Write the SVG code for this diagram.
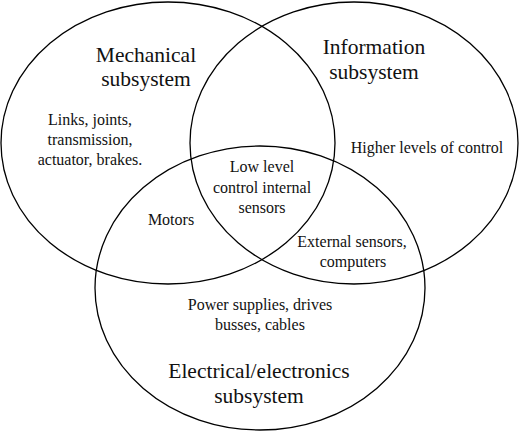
<svg xmlns="http://www.w3.org/2000/svg" width="520" height="432" viewBox="0 0 520 432">
<style>
.set{fill:none;stroke:#000;stroke-width:1.3}
.big{font-size:21.5px}
.sm{font-size:16px}
</style>
<rect width="520" height="432" fill="#fff"/>
<g font-family="'Liberation Serif', 'DejaVu Serif', serif" fill="#111" text-anchor="middle">
<g id="mechanical">
<ellipse class="set" cx="168" cy="143" rx="167" ry="141"/>
<text class="big" x="146" y="62">Mechanical</text>
<text class="big" x="146" y="86">subsystem</text>
<text class="sm" x="90" y="125">Links, joints,</text>
<text class="sm" x="90" y="145">transmission,</text>
<text class="sm" x="90" y="165">actuator, brakes.</text>
</g>
<g id="information">
<ellipse class="set" cx="354" cy="143" rx="164" ry="141"/>
<text class="big" x="374" y="54">Information</text>
<text class="big" x="374" y="79">subsystem</text>
<text class="sm" x="427" y="153">Higher levels of control</text>
</g>
<g id="electrical">
<ellipse class="set" cx="260" cy="288" rx="165" ry="142"/>
<text class="sm" x="260" y="310">Power supplies, drives</text>
<text class="sm" x="260" y="330">busses, cables</text>
<text class="big" x="259" y="378">Electrical/electronics</text>
<text class="big" x="259" y="403">subsystem</text>
</g>
<g id="overlaps">
<text class="sm" x="262" y="172">Low level</text>
<text class="sm" x="262" y="193">control internal</text>
<text class="sm" x="262" y="213">sensors</text>
<text class="sm" x="171" y="225">Motors</text>
<text class="sm" x="352" y="247">External sensors,</text>
<text class="sm" x="353" y="267">computers</text>
</g>
</g>
<g id="connectors"></g>
</svg>
